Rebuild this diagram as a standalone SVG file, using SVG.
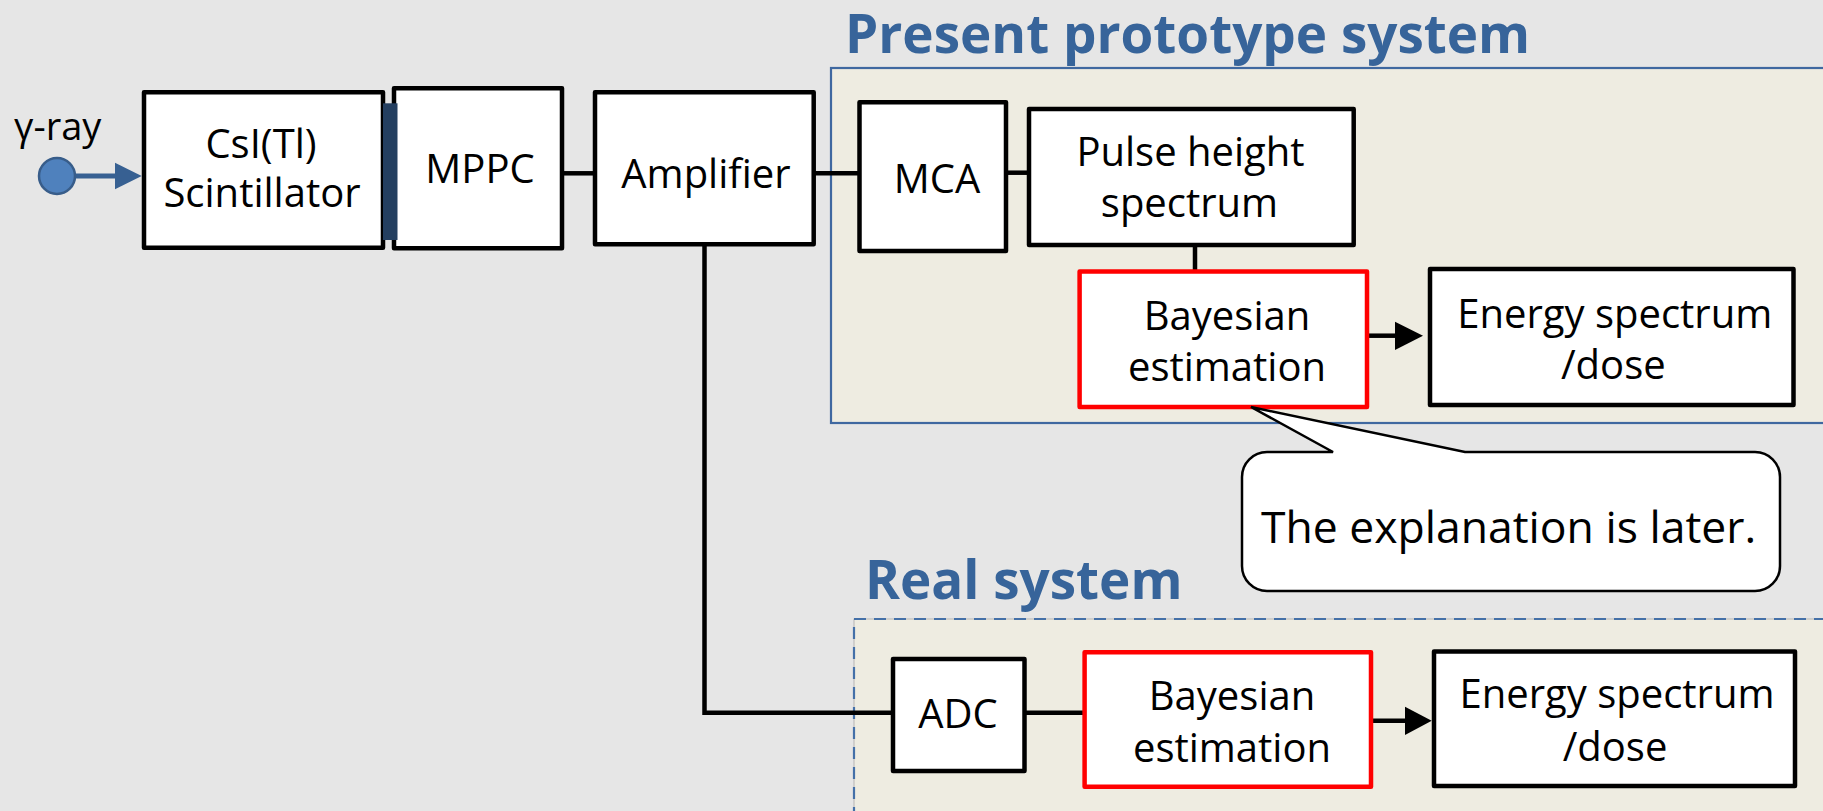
<svg xmlns="http://www.w3.org/2000/svg" width="1823" height="811" viewBox="0 0 1823 811">
<style>
.box{fill:#fff;stroke:#000;stroke-width:4.5;stroke-linejoin:round}
.red{fill:#fff;stroke:#FF0000;stroke-width:4.5;stroke-linejoin:round}
.lbl{font-family:"Open Sans","Noto Sans","Liberation Sans",sans-serif;font-size:40px;fill:#000;text-anchor:middle}
.ttl{font-family:"Open Sans","Noto Sans","Liberation Sans",sans-serif;font-size:53px;font-weight:bold;fill:#37649A}
.ln{fill:none;stroke:#000;stroke-width:4.5}
</style>
<rect x="0" y="0" width="1823" height="811" fill="#E6E6E6"/>

<g id="present-system">
<rect x="831" y="68" width="1010" height="355" fill="#EEECE1" stroke="#3F68A0" stroke-width="2.2"/>
<text class="ttl" x="845" y="52.5">Present prototype system</text>
</g>
<g id="real-system">
<rect x="854" y="619" width="1010" height="300" fill="#EEECE1" stroke="#A8A8A8" stroke-width="0.8"/>
<rect x="854" y="619" width="1010" height="300" fill="none" stroke="#4470A8" stroke-width="2.2" stroke-dasharray="12 8"/>
<text class="ttl" x="865" y="599.3">Real system</text>
</g>

<g id="connectors">
<line x1="57" y1="176" x2="117" y2="176" stroke="#376092" stroke-width="5"/>
<polygon points="115,162.7 141.7,176 115,189.3" fill="#376092"/>
<line class="ln" x1="563" y1="173.3" x2="594" y2="173.3"/>
<line class="ln" x1="815" y1="173.3" x2="859" y2="173.3"/>
<line class="ln" x1="1007" y1="172.7" x2="1028" y2="172.7"/>
<line class="ln" x1="1195" y1="246" x2="1195" y2="271"/>
<line class="ln" x1="1368" y1="335.7" x2="1397" y2="335.7"/>
<polygon points="1395,321.7 1423,335.7 1395,350" fill="#000"/>
<polyline class="ln" points="704.5,245 704.5,712.7 892,712.7" stroke-linejoin="miter"/>
<line class="ln" x1="1026" y1="712.7" x2="1084" y2="712.7"/>
<line class="ln" x1="1372" y1="720.7" x2="1407" y2="720.7"/>
<polygon points="1405,706.7 1431.7,720.7 1405,735" fill="#000"/>
</g>

<g id="gamma-ray">
<circle cx="57" cy="176" r="18" fill="#4F81BD" stroke="#385D8A" stroke-width="2.5"/>
<text class="lbl" x="14" y="140" style="text-anchor:start;font-size:38px">γ-ray</text>
</g>

<g id="csi">
<rect class="box" x="144" y="92.3" width="239" height="155.5"/>
<text class="lbl" x="261" y="157.5">CsI(Tl)</text>
<text class="lbl" x="262" y="206.7">Scintillator</text>
</g>

<g id="mppc">
<rect class="box" x="394" y="88.3" width="168" height="160"/>
<text class="lbl" x="480" y="183.3">MPPC</text>
</g>

<g id="coupling">
<rect x="383" y="103.3" width="14.5" height="136.7" fill="#243F60"/>
</g>

<g id="amplifier">
<rect class="box" x="595" y="92.3" width="218.7" height="152"/>
<text class="lbl" x="706" y="188.3">Amplifier</text>
</g>

<g id="mca">
<rect class="box" x="859.5" y="102.3" width="146.5" height="148.8"/>
<text class="lbl" x="937" y="192.7">MCA</text>
</g>

<g id="pulse-height">
<rect class="box" x="1029" y="109" width="324.7" height="136"/>
<text class="lbl" x="1190.5" y="165.7">Pulse height</text>
<text class="lbl" x="1189.5" y="216.7">spectrum</text>
</g>

<g id="bayes-top">
<rect class="red" x="1079.6" y="271.6" width="287.4" height="135.4"/>
<text class="lbl" x="1227" y="330">Bayesian</text>
<text class="lbl" x="1227" y="381">estimation</text>
</g>

<g id="energy-top">
<rect class="box" x="1430" y="269" width="363.5" height="136"/>
<text class="lbl" x="1614.7" y="328.3">Energy spectrum</text>
<text class="lbl" x="1613.3" y="379">/dose</text>
</g>

<g id="callout">
<path d="M1267,452 L1333,452 L1251,407 L1465,452 L1755,452 A25,25 0 0 1 1780,477 L1780,566 A25,25 0 0 1 1755,591 L1267,591 A25,25 0 0 1 1242,566 L1242,477 A25,25 0 0 1 1267,452 Z" fill="#fff" stroke="#000" stroke-width="2.5" stroke-linejoin="miter"/>
<text class="lbl" x="1508.5" y="542.7" style="font-size:44.5px">The explanation is later.</text>
</g>

<g id="adc">
<rect class="box" x="893" y="659" width="131.5" height="112"/>
<text class="lbl" x="958" y="728.3">ADC</text>
</g>

<g id="bayes-bottom">
<rect class="red" x="1084.6" y="652.3" width="286.4" height="134.5"/>
<text class="lbl" x="1232" y="710">Bayesian</text>
<text class="lbl" x="1232" y="761.7">estimation</text>
</g>

<g id="energy-bottom">
<rect class="box" x="1434" y="651.6" width="361" height="134.5"/>
<text class="lbl" x="1617" y="708.3">Energy spectrum</text>
<text class="lbl" x="1615" y="761">/dose</text>
</g>
</svg>
